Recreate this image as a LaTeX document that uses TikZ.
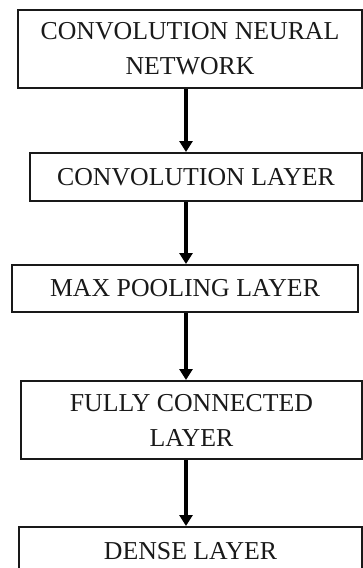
\documentclass[tikz,border=0pt]{standalone}
\usepackage{fontspec}
\setmainfont{Liberation Serif}
\usetikzlibrary{arrows.meta}
\begin{document}
\begin{tikzpicture}[x=1pt,y=-1pt,
  layerbox/.style={draw=black!90, line width=2pt, inner sep=0pt,
    align=center, text=black!90,
    font=\fontsize{25.8pt}{35pt}\selectfont},
  flowarrow/.style={line width=3.6pt, -{Triangle[width=13pt,length=11pt]}}]
  \useasboundingbox (0,0) rectangle (363,568);

  % processing stages, top to bottom
  \node[layerbox, minimum width=344pt, minimum height=78pt] (cnn) at (190,49)
    {CONVOLUTION NEURAL\\NETWORK};
  \node[layerbox, minimum width=332pt, minimum height=48pt] (conv) at (196,177)
    {CONVOLUTION LAYER};
  \node[layerbox, minimum width=346pt, minimum height=47pt] (pool) at (185,288.5)
    {MAX POOLING LAYER};
  \node[layerbox, minimum width=341pt, minimum height=78pt] (fc) at (191.5,420)
    {FULLY CONNECTED\\LAYER};
  \node[layerbox, minimum width=343pt, minimum height=48pt] (dense) at (190.5,551)
    {DENSE LAYER};

  % common vertical axis of the arrows
  \coordinate (axis) at (186,0);

  \draw[flowarrow] (cnn.south -| axis) -- (conv.north -| axis);
  \draw[flowarrow] (conv.south -| axis) -- (pool.north -| axis);
  \draw[flowarrow] (pool.south -| axis) -- (fc.north -| axis);
  \draw[flowarrow] (fc.south -| axis) -- (dense.north -| axis);
\end{tikzpicture}
\end{document}
